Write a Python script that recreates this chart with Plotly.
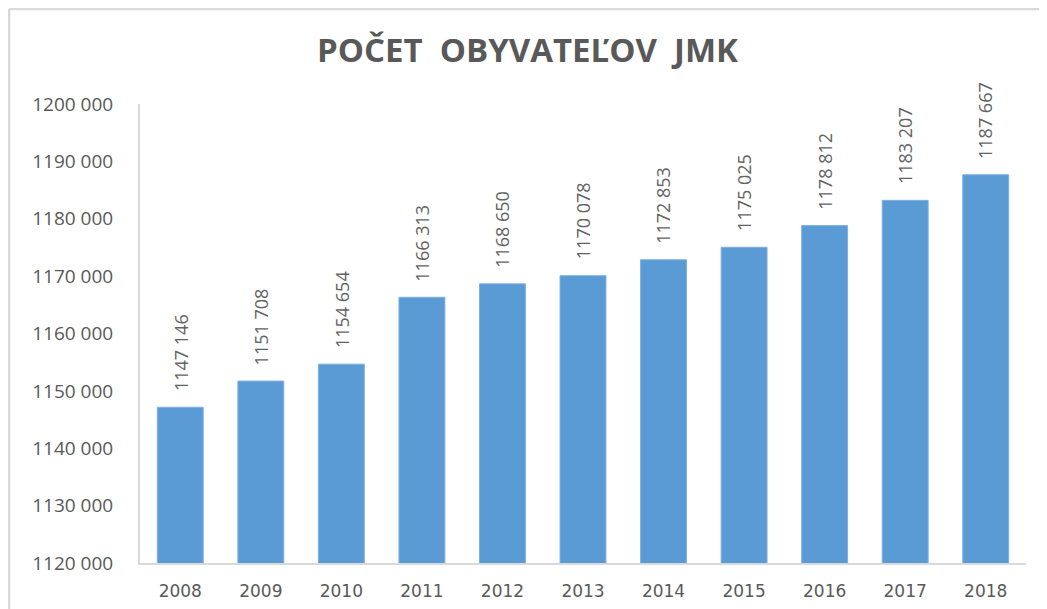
import plotly.graph_objects as go

years = ["2008", "2009", "2010", "2011", "2012", "2013", "2014", "2015", "2016", "2017", "2018"]
population = [1147146, 1151708, 1154654, 1166313, 1168650, 1170078, 1172853, 1175025, 1178812, 1183207, 1187667]
y_ticks = [1120000, 1130000, 1140000, 1150000, 1160000, 1170000, 1180000, 1190000, 1200000]
title_text = "POČET  OBYVATEĽOV  JMK"


def fmt(v):
    return f"{v // 1000} {v % 1000:03d}"


GRAY = "#595959"
AXIS = "#d9d9d9"

fig = go.Figure(
    go.Bar(
        x=years,
        y=population,
        marker=dict(color="#5B9BD5", line=dict(color="#7fb0de", width=1)),
        cliponaxis=False,
    )
)

annotations = [
    dict(
        x=i, y=v, xref="x", yref="y",
        text=fmt(v), textangle=-90, showarrow=False,
        yanchor="bottom", xanchor="center", yshift=14,
        font=dict(family="Open Sans", size=18, color="#636363"),
    )
    for i, v in enumerate(population)
]

fig.update_layout(
    width=1039,
    height=601,
    margin=dict(l=132, r=21, t=96, b=46, autoexpand=False),
    paper_bgcolor="white",
    plot_bgcolor="white",
    bargap=0.43,
    showlegend=False,
    annotations=annotations,
    title=dict(
        text=title_text,
        x=0.5,
        xanchor="center",
        y=0.930,
        yanchor="middle",
        font=dict(family="Open Sans", size=33, color=GRAY, weight="bold"),
    ),
    xaxis=dict(
        type="category",
        range=[-0.5, len(years) - 0.5],
        automargin=False,
        showline=True,
        linecolor=AXIS,
        linewidth=2,
        showgrid=False,
        ticks="",
        ticklabelstandoff=12,
        tickfont=dict(family="DejaVu Sans", size=17, color=GRAY),
    ),
    yaxis=dict(
        range=[1120000, 1200000],
        automargin=False,
        showline=True,
        linecolor=AXIS,
        linewidth=2,
        showgrid=False,
        zeroline=False,
        tickmode="array",
        tickvals=y_ticks,
        ticktext=[fmt(v) for v in y_ticks],
        ticks="",
        ticklabelstandoff=21,
        tickfont=dict(family="Open Sans", size=19, color=GRAY),
    ),
    shapes=[
        dict(type="line", xref="paper", yref="paper", x0=-0.1477, x1=1.03, y0=1.207, y1=1.207,
             line=dict(color=AXIS, width=2.5)),
        dict(type="line", xref="paper", yref="paper", x0=-0.1477, x1=-0.1477, y0=-0.2, y1=1.207,
             line=dict(color=AXIS, width=2.5)),
    ],
)

fig.write_html("out.html")
